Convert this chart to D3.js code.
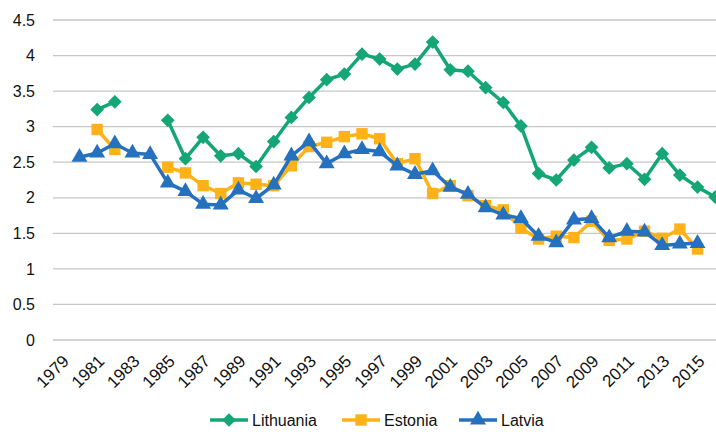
<!DOCTYPE html>
<html>
<head>
<meta charset="utf-8">
<script src="https://cdn.jsdelivr.net/npm/d3@7"></script>
<style>
  body { margin: 0; background: #fff; }
  svg { font-family: "Liberation Sans", Arial, sans-serif; }
</style>
</head>
<body>
<svg id="chart" width="716" height="432"></svg>
<script>
var years = d3.range(1979, 2017);
var yTicks = [0, 0.5, 1, 1.5, 2, 2.5, 3, 3.5, 4, 4.5];
var xTickLabels = d3.range(1979, 2016, 2);

var lithuania = [null, null, 3.24, 3.35, null, null, 3.09, 2.55, 2.85, 2.59, 2.62, 2.44, 2.79, 3.13, 3.41, 3.66, 3.74, 4.02, 3.95, 3.81, 3.88, 4.19, 3.80, 3.78, 3.55, 3.34, 3.01, 2.34, 2.25, 2.53, 2.71, 2.42, 2.48, 2.26, 2.62, 2.32, 2.15, 2.01];
var estonia = [null, null, 2.96, 2.68, null, null, 2.43, 2.35, 2.17, 2.06, 2.21, 2.19, 2.17, 2.45, 2.72, 2.78, 2.86, 2.90, 2.83, 2.48, 2.55, 2.06, 2.17, 2.03, 1.89, 1.83, 1.57, 1.42, 1.46, 1.44, 1.67, 1.40, 1.42, 1.53, 1.43, 1.56, 1.28, null];
var latvia = [null, 2.57, 2.63, 2.76, 2.63, 2.61, 2.21, 2.09, 1.91, 1.90, 2.11, 1.99, 2.18, 2.59, 2.79, 2.48, 2.62, 2.68, 2.65, 2.45, 2.33, 2.38, 2.15, 2.05, 1.86, 1.76, 1.71, 1.46, 1.37, 1.69, 1.71, 1.44, 1.53, 1.52, 1.33, 1.35, 1.36, null];

var series = [
  {name: "Lithuania", values: lithuania, color: "#14a674", shape: d3.symbolDiamond2, size: 120},
  {name: "Estonia", values: estonia, color: "#ffb217", shape: d3.symbolSquare, size: 130},
  {name: "Latvia", values: latvia, color: "#2571be", shape: d3.symbolTriangle, size: 110}
];

var svg = d3.select("#chart");

var x = d3.scalePoint()
    .domain(years)
    .range([53, 724])
    .padding(0.5);

var y = d3.scaleLinear()
    .domain([0, 4.5])
    .range([340, 20]);

// gridlines
svg.append("g")
  .selectAll("line")
  .data(yTicks)
  .enter().append("line")
    .attr("x1", 53)
    .attr("x2", 724)
    .attr("y1", function(d) { return y(d); })
    .attr("y2", function(d) { return y(d); })
    .attr("stroke", "#c6c6c6")
    .attr("stroke-width", 1.3);

// y labels
var yAxis = svg.append("g")
    .attr("transform", "translate(38,0)")
    .call(d3.axisLeft(y).tickValues(yTicks).tickFormat(d3.format("")).tickSize(0).tickPadding(3));
yAxis.select(".domain").remove();
yAxis.selectAll("text")
    .attr("font-size", 16)
    .attr("font-family", "Liberation Sans, Arial, sans-serif")
    .attr("fill", "#111");

// x labels, rotated
svg.append("g")
  .selectAll("text")
  .data(xTickLabels)
  .enter().append("text")
    .attr("transform", function(d) { return "translate(" + (x(d) + 4) + ",358) rotate(-45)"; })
    .attr("text-anchor", "end")
    .attr("dy", "0.35em")
    .attr("font-size", 17)
    .attr("fill", "#111")
    .text(function(d) { return d; });

var line = d3.line()
    .defined(function(d) { return d != null; })
    .x(function(d, i) { return x(years[i]); })
    .y(function(d) { return y(d); });

series.forEach(function(s) {
  var g = svg.append("g");
  g.append("path")
      .datum(s.values)
      .attr("fill", "none")
      .attr("stroke", s.color)
      .attr("stroke-width", 3.5)
      .attr("stroke-linejoin", "round")
      .attr("d", line);

  g.selectAll("path.pt")
    .data(s.values.map(function(v, i) { return {year: years[i], v: v}; })
      .filter(function(d) { return d.v != null; }))
    .enter().append("path")
      .attr("class", "pt")
      .attr("transform", function(d) { return "translate(" + x(d.year) + "," + y(d.v) + ")"; })
      .attr("d", d3.symbol().type(s.shape).size(s.size))
      .attr("fill", s.color);
});

// legend
var legendX = [210, 342, 459];
var legend = svg.append("g")
  .selectAll("g")
  .data(series)
  .enter().append("g")
    .attr("transform", function(d, i) { return "translate(" + legendX[i] + ",420)"; });

legend.append("line")
    .attr("x1", 0)
    .attr("x2", 38)
    .attr("stroke", function(d) { return d.color; })
    .attr("stroke-width", 3.5);

legend.append("path")
    .attr("transform", "translate(19,0)")
    .attr("d", function(d) { return d3.symbol().type(d.shape).size(d.size)(); })
    .attr("fill", function(d) { return d.color; });

legend.append("text")
    .attr("x", 42)
    .attr("dy", "0.35em")
    .attr("font-size", 16)
    .attr("fill", "#111")
    .text(function(d) { return d.name; });
</script>
</body>
</html>
